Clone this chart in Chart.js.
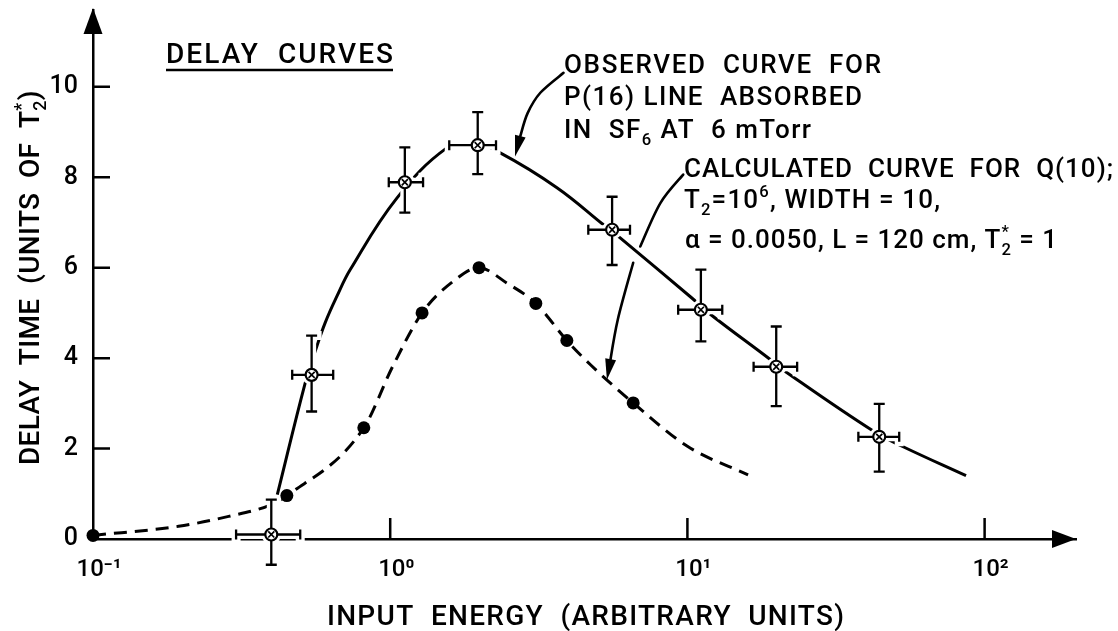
<!DOCTYPE html>
<html>
<head>
<meta charset="utf-8">
<script src="https://cdn.jsdelivr.net/npm/chart.js@4.4.1/dist/chart.umd.min.js"></script>
<style>
html,body{margin:0;padding:0;background:#fff;}
#c{display:block;}
</style>
</head>
<body>
<canvas id="c" width="1118" height="631"></canvas>
<script>
// ---------- data ----------
const xTickValues = [0.1, 1, 10, 100];
const xTickLabels = ['10\u207B\u00B9', '10\u2070', '10\u00B9', '10\u00B2'];
const yTickValues = [0, 2, 4, 6, 8, 10];

// observed points (circled x with error bars)
const obsX   = [0.398, 0.544, 1.12, 1.97, 5.58, 11.1, 19.9, 44.2];
const obsY   = [0.10, 3.63, 7.89, 8.71, 6.84, 5.07, 3.81, 2.26];
const obsXLo = [0.303, 0.468, 0.989, 1.58, 4.64, 9.31, 16.7, 37.6];
const obsXHi = [0.498, 0.643, 1.29, 2.27, 6.41, 13.1, 23.4, 51.6];
const obsYLo = [-0.57, 2.82, 7.22, 8.07, 6.06, 4.37, 2.94, 1.49];
const obsYHi = [0.87, 4.50, 8.66, 9.44, 7.57, 5.96, 4.70, 2.99];

// observed (solid) curve
const obsCurveX = [0.417, 0.518, 0.559, 0.604, 0.662, 0.734, 1.053, 1.551, 1.90, 2.345, 3.64, 5.22, 5.94, 10.35, 12.0, 19.0, 21.4, 42.6, 53.2, 86.6];
const obsCurveY = [0.98, 3.46, 4.15, 4.78, 5.37, 5.96, 7.54, 8.65, 8.76, 8.54, 7.77, 6.95, 6.66, 5.33, 4.96, 3.97, 3.70, 2.37, 2.04, 1.40];

// calculated points (filled dots)
const calcX = [0.1, 0.449, 0.815, 1.28, 1.99, 3.09, 3.93, 6.57];
const calcY = [0.08, 0.96, 2.46, 5.0, 6.0, 5.21, 4.39, 3.01];

// calculated (dashed) curve
const calcCurveX = [0.1, 0.194, 0.286, 0.398, 0.449, 0.815, 1.02, 1.28, 1.63, 1.99, 2.47, 3.09, 3.93, 4.71, 6.57, 10.0, 16.0];
const calcCurveY = [0.08, 0.28, 0.50, 0.76, 0.96, 2.46, 3.82, 5.0, 5.70, 6.0, 5.66, 5.21, 4.39, 3.86, 3.01, 2.05, 1.42];

// annotation arrows (data coordinates)
const obsArrow = [[3.83, 10.31], [3.20, 9.87], [2.90, 9.42], [2.74, 8.91], [2.63, 8.46]];
const calcArrowTop = [[9.68, 8.06], [8.11, 7.43], [6.94, 6.47]];
const calcArrowBottom = [[6.57, 6.11], [5.83, 4.85], [5.36, 3.52]];

const FONT = 'Roboto';
const WEIGHT = '500';
const pts = (xs, ys) => xs.map((x, i) => ({x, y: ys[i]}));

// ---------- helpers ----------
function drawRich(ctx, segs, x, y, size, width) {
  ctx.save();
  ctx.letterSpacing = '0px';
  const items = segs.map(s => {
    const kind = s[1] || '';
    const fs = kind ? size * 0.64 : size;
    ctx.font = WEIGHT + ' ' + fs + 'px ' + FONT;
    return {t: s[0], kind, fs, w: ctx.measureText(s[0]).width, n: [...s[0]].length};
  });
  let natural = 0, chars = 0;
  items.forEach((it, i) => {
    if (it.kind === 'supOver') natural += Math.max(0, it.w - items[i - 1].w);
    else natural += it.w;
    chars += it.n;
  });
  const sp = width ? (width - natural) / Math.max(1, chars - 1) : 0;
  let cx = x, lastStart = x;
  ctx.fillStyle = '#000';
  ctx.textBaseline = 'alphabetic';
  ctx.textAlign = 'left';
  items.forEach(it => {
    ctx.font = WEIGHT + ' ' + it.fs + 'px ' + FONT;
    ctx.letterSpacing = sp + 'px';
    let dy = 0;
    if (it.kind === 'sub') dy = size * 0.26;
    if (it.kind === 'sup' || it.kind === 'supOver') dy = -size * 0.42;
    const sx = it.kind === 'supOver' ? lastStart : cx;
    ctx.fillText(it.t, sx, y + dy);
    const adv = it.w + sp * it.n;
    if (it.kind === 'supOver') cx = Math.max(cx, sx + adv);
    else { lastStart = sx; cx = sx + adv; }
  });
  ctx.restore();
}

function smoothPath(ctx, p) {
  ctx.moveTo(p[0][0], p[0][1]);
  for (let i = 0; i < p.length - 1; i++) {
    const p0 = p[Math.max(0, i - 1)], p1 = p[i], p2 = p[i + 1], p3 = p[Math.min(p.length - 1, i + 2)];
    const c1x = p1[0] + (p2[0] - p0[0]) / 6, c1y = p1[1] + (p2[1] - p0[1]) / 6;
    const c2x = p2[0] - (p3[0] - p1[0]) / 6, c2y = p2[1] - (p3[1] - p1[1]) / 6;
    ctx.bezierCurveTo(c1x, c1y, c2x, c2y, p2[0], p2[1]);
  }
}

function arrowHead(ctx, from, tip, len, half) {
  const dx = tip[0] - from[0], dy = tip[1] - from[1];
  const d = Math.hypot(dx, dy) || 1, ux = dx / d, uy = dy / d;
  const bx = tip[0] - ux * len, by = tip[1] - uy * len;
  ctx.beginPath();
  ctx.moveTo(tip[0], tip[1]);
  ctx.lineTo(bx - uy * half, by + ux * half);
  ctx.lineTo(bx + uy * half, by - ux * half);
  ctx.closePath();
  ctx.fill();
}

// ---------- plugins ----------
const inwardTicks = {
  id: 'inwardTicks',
  beforeDatasetsDraw(chart) {
    const {ctx, chartArea: a, scales: {x, y}} = chart;
    ctx.save();
    ctx.strokeStyle = '#000';
    ctx.lineWidth = 2.5;
    ctx.beginPath();
    yTickValues.filter(v => v > 0).forEach(v => {
      const py = y.getPixelForValue(v);
      ctx.moveTo(a.left, py); ctx.lineTo(a.left + 17, py);
    });
    xTickValues.filter(v => v > xTickValues[0]).forEach(v => {
      const px = x.getPixelForValue(v);
      ctx.moveTo(px, a.bottom); ctx.lineTo(px, a.bottom - 21);
    });
    ctx.stroke();
    ctx.restore();
  }
};

const errBars = {
  id: 'errBars',
  afterDatasetDraw(chart, args) {
    if (args.index !== 3) return;
    const {ctx, scales: {x, y}} = chart;
    const cap = 5;
    const items = obsX.map((v, i) => ({
      cx: x.getPixelForValue(v), cy: y.getPixelForValue(obsY[i]),
      xl: x.getPixelForValue(obsXLo[i]), xh: x.getPixelForValue(obsXHi[i]),
      yl: y.getPixelForValue(obsYLo[i]), yh: y.getPixelForValue(obsYHi[i])
    }));
    const path = p => {
      ctx.beginPath();
      ctx.moveTo(p.xl, p.cy); ctx.lineTo(p.xh, p.cy);
      ctx.moveTo(p.xl, p.cy - cap); ctx.lineTo(p.xl, p.cy + cap);
      ctx.moveTo(p.xh, p.cy - cap); ctx.lineTo(p.xh, p.cy + cap);
      ctx.moveTo(p.cx, p.yl); ctx.lineTo(p.cx, p.yh);
      ctx.moveTo(p.cx - cap - 0.5, p.yl); ctx.lineTo(p.cx + cap + 0.5, p.yl);
      ctx.moveTo(p.cx - cap - 0.5, p.yh); ctx.lineTo(p.cx + cap + 0.5, p.yh);
    };
    ctx.save();
    // white knock-out around bars and markers
    ctx.strokeStyle = '#fff';
    ctx.fillStyle = '#fff';
    ctx.lineWidth = 9;
    ctx.lineCap = 'square';
    items.forEach(p => {
      path(p); ctx.stroke();
      ctx.beginPath(); ctx.arc(p.cx, p.cy, 10, 0, Math.PI * 2); ctx.fill();
    });
    ctx.strokeStyle = '#000';
    ctx.lineWidth = 2.3;
    ctx.lineCap = 'butt';
    items.forEach(p => { path(p); ctx.stroke(); });
    ctx.restore();
  }
};

const decorations = {
  id: 'decorations',
  afterDraw(chart) {
    const {ctx, chartArea: a, scales: {x, y}} = chart;
    const P = d => [x.getPixelForValue(d[0]), y.getPixelForValue(d[1])];
    ctx.save();
    ctx.fillStyle = '#000';
    ctx.strokeStyle = '#000';
    // axis arrowheads
    ctx.beginPath();
    ctx.moveTo(a.left, a.top - 2); ctx.lineTo(a.left - 9.5, a.top + 24); ctx.lineTo(a.left + 9.5, a.top + 24);
    ctx.closePath(); ctx.fill();
    ctx.beginPath();
    ctx.moveTo(a.right, a.bottom); ctx.lineTo(a.right - 24, a.bottom - 9); ctx.lineTo(a.right - 24, a.bottom + 9);
    ctx.closePath(); ctx.fill();

    // annotation arrows
    ctx.lineWidth = 2.6;
    ctx.lineCap = 'round';
    const drawArrow = (d, head) => {
      const p = d.map(P);
      const tip = p[p.length - 1];
      let q = p;
      if (head) {
        const prev = p[p.length - 2];
        const dx = tip[0] - prev[0], dy = tip[1] - prev[1], L = Math.hypot(dx, dy);
        q = p.slice(0, -1).concat([[tip[0] - dx / L * 14, tip[1] - dy / L * 14]]);
      }
      ctx.beginPath(); smoothPath(ctx, q); ctx.stroke();
      if (head) arrowHead(ctx, p[p.length - 2], tip, 21, 5.5);
    };
    drawArrow(obsArrow, true);
    drawArrow(calcArrowTop, false);
    drawArrow(calcArrowBottom, true);

    // texts
    drawRich(ctx, [['DELAY  CURVES']], 166, 63, 28, 227);
    ctx.lineWidth = 2.5; ctx.lineCap = 'butt';
    ctx.beginPath(); ctx.moveTo(166, 70); ctx.lineTo(393, 70); ctx.stroke();

    drawRich(ctx, [['OBSERVED  CURVE  FOR']], 564, 73, 26, 317);
    drawRich(ctx, [['P(16) LINE  ABSORBED']], 564, 105, 26, 298);
    drawRich(ctx, [['IN  SF'], ['6', 'sub'], [' AT  6 mTorr']], 564, 138, 26, 247);
    drawRich(ctx, [['CALCULATED  CURVE  FOR  Q(10);']], 684, 177, 26, 429);
    drawRich(ctx, [['T'], ['2', 'sub'], ['=10'], ['6', 'sup'], [', WIDTH = 10,']], 684, 208, 26, 256);
    drawRich(ctx, [['\u03B1 = 0.0050, L = 120 cm, T'], ['2', 'sub'], ['*', 'supOver'], [' = 1']], 685, 248, 26, 373);

    // axis titles
    drawRich(ctx, [['INPUT  ENERGY  (ARBITRARY  UNITS)']], 327, 625, 28, 517);
    ctx.save();
    ctx.translate(39, 465);
    ctx.rotate(-Math.PI / 2);
    drawRich(ctx, [['DELAY  TIME  (UNITS  OF  T'], ['2', 'sub'], ['*', 'supOver'], [')']], 0, 0, 28, 375);
    ctx.restore();
    ctx.restore();
  }
};

// ---------- chart ----------
Chart.defaults.font.family = FONT;
Chart.defaults.color = '#000';

new Chart(document.getElementById('c'), {
  type: 'scatter',
  data: {
    datasets: [
      { label: 'Observed (marker cross)', data: pts(obsX, obsY), pointStyle: 'crossRot', pointRadius: 4.3,
        borderColor: '#000', pointBorderWidth: 1.7, backgroundColor: '#000', showLine: false, order: 0, clip: false },
      { label: 'Observed', data: pts(obsX, obsY), pointStyle: 'circle', pointRadius: 6,
        borderColor: '#000', pointBorderWidth: 2.2, backgroundColor: '#fff', showLine: false, order: 1, clip: false },
      { label: 'Calculated', data: pts(calcX, calcY), pointStyle: 'circle', pointRadius: 6.5,
        borderColor: '#000', backgroundColor: '#000', pointBorderWidth: 0, showLine: false, order: 2, clip: false },
      { label: 'Observed curve', data: pts(obsCurveX, obsCurveY), showLine: true, pointRadius: 0,
        borderColor: '#000', borderWidth: 3, tension: 0.4, order: 3, clip: false },
      { label: 'Calculated curve', data: pts(calcCurveX, calcCurveY), showLine: true, pointRadius: 0,
        borderColor: '#000', borderWidth: 3, borderDash: [13, 8], cubicInterpolationMode: 'monotone', order: 4, clip: false }
    ]
  },
  options: {
    responsive: false,
    animation: false,
    devicePixelRatio: 1,
    layout: { padding: { top: 10, right: 42, bottom: 0, left: 0 } },
    plugins: { legend: { display: false }, tooltip: { enabled: false } },
    scales: {
      x: {
        type: 'logarithmic', position: 'bottom', min: 0.1, max: 203,
        afterBuildTicks: s => { s.ticks = xTickValues.map(v => ({ value: v })); },
        afterFit: s => { s.height = 92; s.paddingLeft = 0; s.paddingRight = 0; },
        grid: { display: false, drawTicks: false },
        border: { display: true, color: '#000', width: 2.5 },
        ticks: { autoSkip: false, maxRotation: 0, padding: 17, labelOffset: 6,
          font: { family: FONT, size: 24, weight: WEIGHT }, color: '#000',
          callback: (v, i) => xTickLabels[i] }
      },
      y: {
        type: 'linear', min: 0, max: 11.7,
        afterBuildTicks: s => { s.ticks = yTickValues.map(v => ({ value: v })); },
        afterFit: s => { s.width = 93; s.paddingTop = 0; s.paddingBottom = 0; },
        grid: { display: false, drawTicks: false },
        border: { display: true, color: '#000', width: 2.5 },
        ticks: { padding: 15, font: { family: FONT, size: 25, weight: WEIGHT }, color: '#000',
          callback: (v, i) => String(yTickValues[i]) }
      }
    }
  },
  plugins: [inwardTicks, errBars, decorations]
});
</script>
</body>
</html>
